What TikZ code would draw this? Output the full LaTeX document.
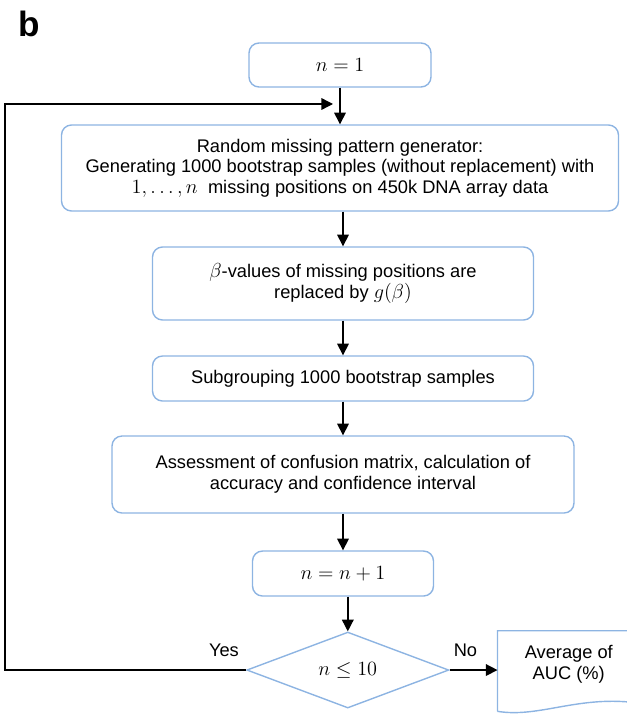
\documentclass[tikz,border=0pt]{standalone}
\usepackage{fontspec}
\setmainfont{Liberation Sans}
\usepackage{tikz}
\usetikzlibrary{shapes,arrows,positioning,calc,arrows.meta}
\definecolor{boxblue}{RGB}{141,180,226}
\newcommand{\mth}[1]{{\fontsize{15}{14.6}\selectfont$#1$}}

\begin{document}
\begin{tikzpicture}[node distance=0.9cm,
    font=\fontsize{13}{14.6}\selectfont,
    stepbox/.style={draw=boxblue, line width=1pt, rounded corners=0.25cm, align=center, inner sep=0pt},
    arr/.style={-{Triangle[length=0.29cm,width=0.29cm]}, line width=1pt}]
    \useasboundingbox (0,0) rectangle (15.65,-17.875);
    \node [font=\fontsize{25}{30}\selectfont\bfseries] (lbl) at (0.725,-0.6) {b};

    \node [stepbox, minimum width=4.55cm, minimum height=1.1cm] (init) at (8.5,-1.625) {\mth{n=1}};
    \node [stepbox, minimum width=13.925cm, minimum height=2.15cm, below=0.915cm of init] (gen) {Random missing pattern generator:\\Generating 1000 bootstrap samples (without replacement) with\\\mth{1,\ldots,n}\; missing positions on 450k DNA array data};
    \node [stepbox, minimum width=9.525cm, minimum height=1.825cm, below=0.865cm of gen, xshift=0.075cm] (repl) {\mth{\beta}-values of missing positions are\\replaced by \mth{g(\beta)}};
    \node [stepbox, minimum width=9.525cm, minimum height=1.125cm, below=0.865cm of repl] (subg) {Subgrouping 1000 bootstrap samples};
    \node [stepbox, minimum width=11.55cm, minimum height=1.925cm, below=0.84cm of subg] (assess) {Assessment of confusion matrix, calculation of\\accuracy and confidence interval};
    \node [stepbox, minimum width=4.525cm, minimum height=1.125cm, below=0.915cm of assess] (incr) {\mth{n=n+1}};
    \node [draw=boxblue, line width=1pt, diamond, inner sep=0pt, minimum width=5.05cm, minimum height=1.9cm, below=0.865cm of incr, xshift=0.12cm] (check) {\mth{n\leq 10}};
    \node [align=center, minimum width=3.55cm, minimum height=1.65cm, inner sep=0pt, anchor=west, right=1.2cm of check.east, yshift=0.15cm] (avg) {Average of\\AUC (\%)};

    % document outline, cut by the page edge
    \draw [draw=boxblue, line width=1pt] ($(avg.south west)+(0,-0.35)$) -- (avg.north west) -- (avg.north east) -- ($(avg.south east)+(0,-0.15)$)
        .. controls ($(avg.south west)+(2.05,0.075)$) and ($(avg.south west)+(1.05,-0.525)$) .. ($(avg.south west)+(0,-0.35)$);

    \draw [arr] (init.south -| gen.north) -- (gen.north);
    \draw [arr] (gen.south -| repl.north) -- (repl.north);
    \draw [arr] (repl.south) -- (subg.north);
    \draw [arr] (subg.south) -- (assess.north);
    \draw [arr] (assess.south) -- (incr.north);
    \draw [arr] (incr.south -| check.north) -- (check.north);
    \draw [arr] (check.east) -- (check.east -| avg.west);

    \coordinate (loop) at (0.125,-2.6);
    \draw [arr] (check.west) -| (loop) -- ($(loop -| gen.north)+(-0.175,0)$);

    \node [inner sep=0pt, above left=0.325cm and 0.175cm of check.west] (yes) {Yes};
    \node [inner sep=0pt, above right=0.325cm and 0.1cm of check.east] (no) {No};
\end{tikzpicture}
\end{document}
